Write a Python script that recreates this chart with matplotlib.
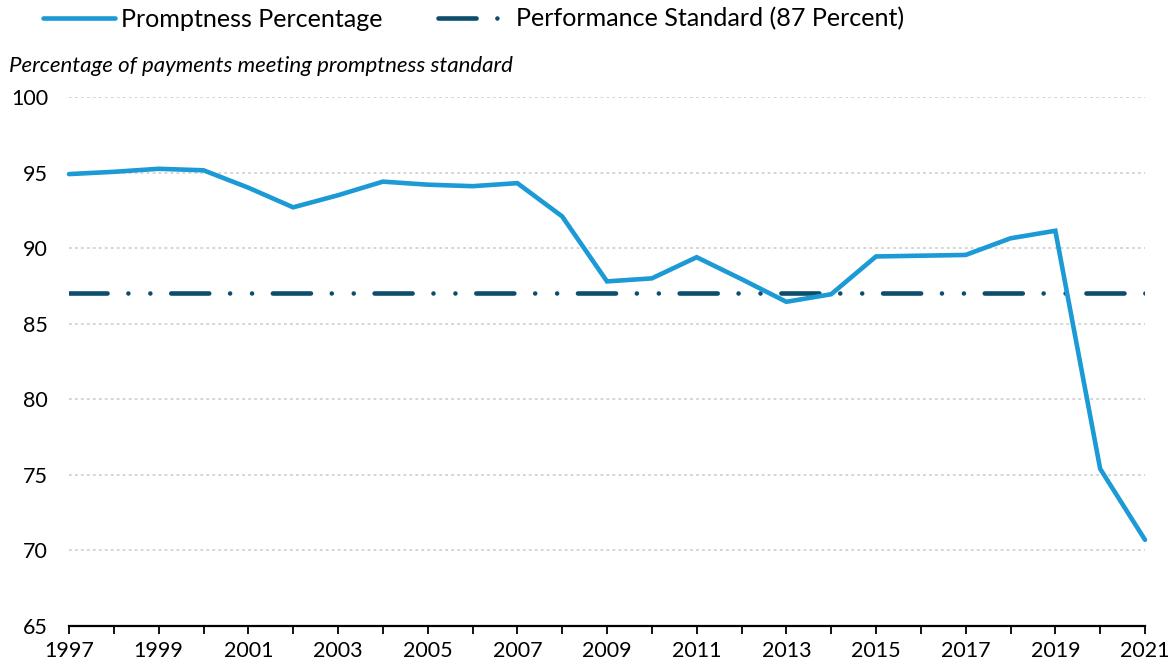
import matplotlib
matplotlib.use("Agg")
import matplotlib.pyplot as plt

plt.rcParams["font.family"] = ["Lato", "DejaVu Sans"]
plt.rcParams["lines.scale_dashes"] = False

years = list(range(1997, 2022))
promptness = [94.9, 95.05, 95.25, 95.15, 94.0, 92.7, 93.5, 94.4, 94.2, 94.1,
              94.3, 92.1, 87.8, 88.0, 89.4, 87.95, 86.45, 86.95, 89.45, 89.5,
              89.55, 90.65, 91.15, 75.4, 70.7]
standard = [87] * len(years)
y_ticks = [65, 70, 75, 80, 85, 90, 95, 100]

blue = "#1b9ad6"
navy = "#0b4d6b"

fig = plt.figure(figsize=(11.75, 6.71), dpi=100)
ax = fig.add_axes([69 / 1175, 1 - 626 / 671, (1145 - 69) / 1175, (626 - 97) / 671])

std_line, = ax.plot(years, standard, color=navy, lw=3.3,
                    dashes=(27.4, 15.0, 0.01, 15.8, 0.01, 15.0),
                    dash_capstyle="round", label="Performance Standard (87 Percent)")
pr_line, = ax.plot(years, promptness, color=blue, lw=3.3, solid_capstyle="round",
                   solid_joinstyle="miter", clip_on=False, zorder=3,
                   label="Promptness Percentage")

ax.set_xlim(1997, 2021)
ax.set_ylim(65, 100)
ax.set_yticks(y_ticks)
ax.set_xticks(years)
ax.set_xticklabels([str(y) if y % 2 == 1 else "" for y in years])

ax.yaxis.grid(True, color="#d2d2d2", lw=1.3, linestyle=(0, (2.0, 2.3)))
ax.set_axisbelow(True)
for s in ["top", "right", "left"]:
    ax.spines[s].set_visible(False)
ax.spines["bottom"].set_linewidth(1.6)
ax.tick_params(axis="y", length=0, pad=15, labelsize=15.5)
ax.tick_params(axis="x", length=5.5, width=1.3, pad=5, labelsize=15.5, direction="out")

fig.text(9 / 1175, 1 - 72 / 671, "Percentage of payments meeting promptness standard",
         fontsize=16, style="italic", va="baseline", ha="left")

leg = fig.legend(handles=[pr_line, std_line], loc="center left",
                 bbox_to_anchor=(43 / 1175, 1 - 19 / 671), ncol=2, frameon=False,
                 fontsize=18.1, handlelength=2.86, handletextpad=0.25,
                 columnspacing=2.2, borderpad=0, borderaxespad=0)

plt.savefig("out.png", dpi=100)
